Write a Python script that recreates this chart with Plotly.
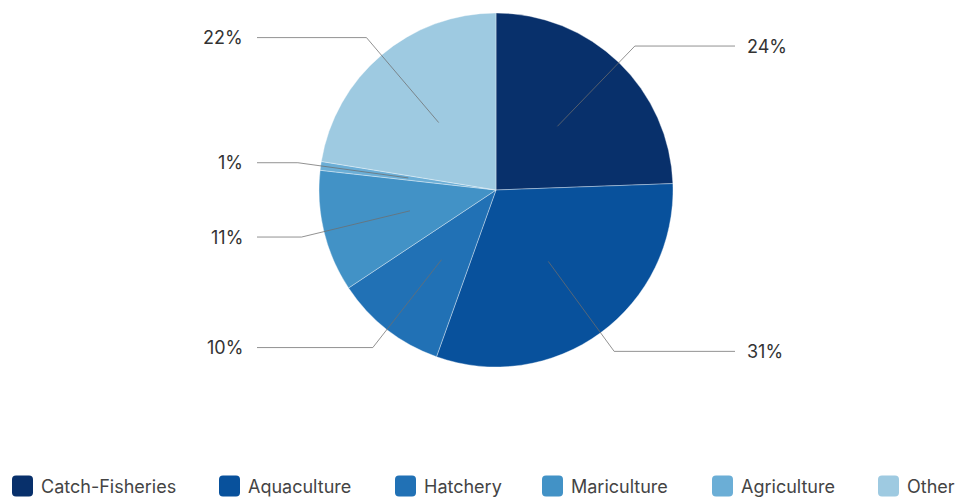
import math
import plotly.graph_objects as go

# ---- data ----
categories = ["Catch-Fisheries", "Aquaculture", "Hatchery", "Mariculture", "Agriculture", "Other"]
values = [24.4, 31.0, 10.2, 11.1, 0.8, 22.4]
colors = ["#08306b", "#08519c", "#2171b5", "#4292c6", "#6baed6", "#9ecae1"]

# ---- layout constants (pixels) ----
W, H = 959, 498
CX, CY, R = 496, 190, 177
LEFT_LINE_END, RIGHT_LINE_END = 257, 735
LEFT_TEXT_X, RIGHT_TEXT_X = 245, 745
legend_x = [12, 219, 395, 542, 712, 878]
legend_y = 486
SQ = 21
FONT = "Inter, Roboto, sans-serif"

def px(x):
    return x / W

def py(y):
    return 1 - y / H

fig = go.Figure(go.Pie(
    labels=categories, values=values, sort=False, direction="clockwise", rotation=0,
    marker=dict(colors=colors, line=dict(color="rgba(255,255,255,0.6)", width=0.6)),
    textinfo="none", hoverinfo="label+percent", showlegend=False,
    domain=dict(x=[px(CX - R), px(CX + R)], y=[py(CY + R), py(CY - R)]),
))

shapes, annotations = [], []
total = sum(values)
cum = 0.0
for v in values:
    mid = (cum + v / 2) / total * 2 * math.pi
    cum += v
    sx, sy = CX + 0.5 * R * math.sin(mid), CY - 0.5 * R * math.cos(mid)
    ex, ey = CX + 1.13 * R * math.sin(mid), CY - 1.13 * R * math.cos(mid)
    right = math.sin(mid) > 0
    endx = RIGHT_LINE_END if right else LEFT_LINE_END
    path = f"M {px(sx)},{py(sy)} L {px(ex)},{py(ey)} L {px(endx)},{py(ey)}"
    shapes.append(dict(type="path", path=path, xref="paper", yref="paper",
                       line=dict(color="rgba(110,110,110,0.75)", width=1)))
    annotations.append(dict(
        x=px(RIGHT_TEXT_X if right else LEFT_TEXT_X), y=py(ey), xref="paper", yref="paper",
        text=f"{round(v / total * 100):.0f}%", showarrow=False,
        xanchor="left" if right else "right", yanchor="middle",
        font=dict(family=FONT, size=18, color="#333333")))

# custom legend with rounded squares
for name, col, lx in zip(categories, colors, legend_x):
    x0, x1 = lx, lx + SQ
    y0, y1 = legend_y - SQ / 2, legend_y + SQ / 2
    r = 4
    path = (f"M {px(x0 + r)},{py(y0)} L {px(x1 - r)},{py(y0)} Q {px(x1)},{py(y0)} {px(x1)},{py(y0 + r)} "
            f"L {px(x1)},{py(y1 - r)} Q {px(x1)},{py(y1)} {px(x1 - r)},{py(y1)} "
            f"L {px(x0 + r)},{py(y1)} Q {px(x0)},{py(y1)} {px(x0)},{py(y1 - r)} "
            f"L {px(x0)},{py(y0 + r)} Q {px(x0)},{py(y0)} {px(x0 + r)},{py(y0)} Z")
    shapes.append(dict(type="path", path=path, xref="paper", yref="paper",
                       fillcolor=col, line=dict(width=0)))
    annotations.append(dict(
        x=px(lx + 27), y=py(legend_y), xref="paper", yref="paper", text=name,
        showarrow=False, xanchor="left", yanchor="middle",
        font=dict(family=FONT, size=18, color="#444444")))

fig.update_layout(
    width=W, height=H, margin=dict(l=0, r=0, t=0, b=0),
    paper_bgcolor="white", plot_bgcolor="white",
    shapes=shapes, annotations=annotations,
)

fig.write_html("out.html")
